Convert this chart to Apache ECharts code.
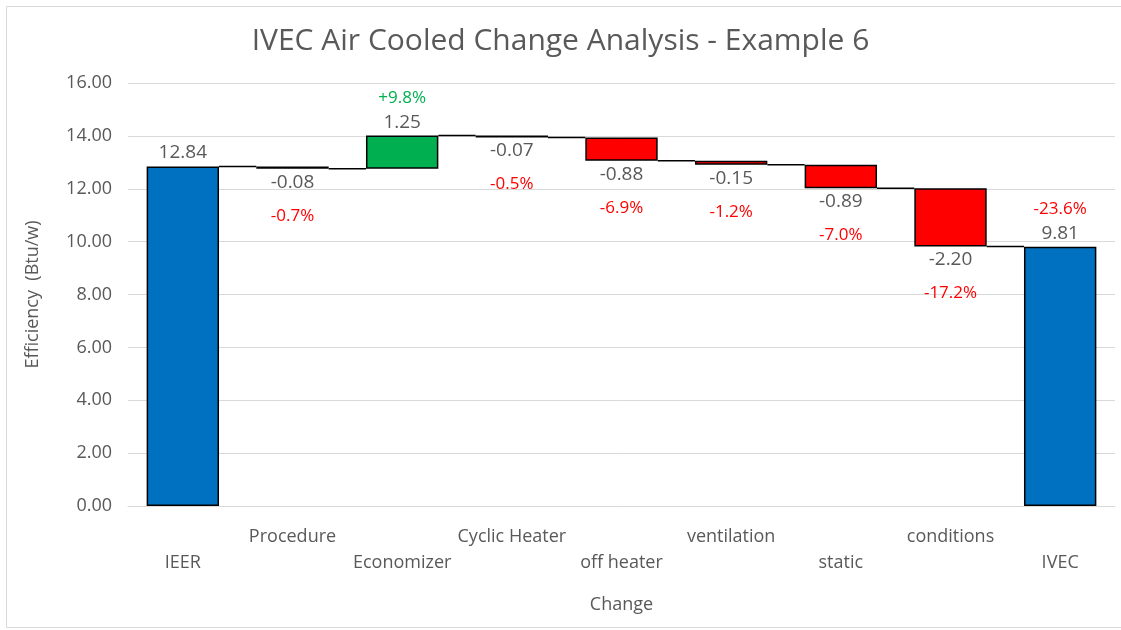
<!DOCTYPE html>
<html>
<head>
<meta charset="UTF-8">
<title>IVEC Air Cooled Change Analysis</title>
<script src="https://cdn.jsdelivr.net/npm/echarts@6/dist/echarts.min.js"></script>
<style>
* { margin: 0; padding: 0; }
#app { width: 1121px; height: 630px; background: #fff; }
</style>
</head>
<body>
<div id="app"></div>
<script>
var categories = ['IEER', 'Procedure', 'Economizer', 'Cyclic Heater', 'off heater', 'ventilation', 'static', 'conditions', 'IVEC'];
// start / end totals and step changes
var startValue = 12.84;
var endValue = 9.81;
var changes = [-0.08, 1.25, -0.07, -0.88, -0.15, -0.89, -2.20];
var percents = ['', '-0.7%', '+9.8%', '-0.5%', '-6.9%', '-1.2%', '-7.0%', '-17.2%', '-23.6%'];
var yTicks = [0, 16, 2];

var GREY = '#595959';
var FONT = '"Open Sans", "Noto Sans", sans-serif';

// build waterfall base / bar values
var baseData = [0];
var barData = [{ value: startValue, kind: 'total', raw: startValue }];
var levels = [startValue];
var level = startValue;
changes.forEach(function (d) {
  var next = +(level + d).toFixed(2);
  baseData.push(Math.min(level, next));
  barData.push({ value: Math.abs(d), kind: d >= 0 ? 'up' : 'down', raw: d });
  level = next;
  levels.push(level);
});
baseData.push(0);
barData.push({ value: endValue, kind: 'total', raw: endValue });

var colorOf = { total: '#0070C0', up: '#00B050', down: '#FF0000' };

var seriesData = barData.map(function (b, i) {
  var neg = b.kind === 'down';
  var pct = percents[i];
  var txt;
  if (neg) {
    txt = '{v|' + b.raw.toFixed(2) + '}\n{pr|' + pct + '}';
  } else if (pct) {
    txt = '{' + (b.kind === 'up' ? 'pg' : 'pr2') + '|' + pct + '}\n{v|' + b.raw.toFixed(2) + '}';
  } else {
    txt = '{v|' + b.raw.toFixed(2) + '}';
  }
  return {
    value: b.value,
    itemStyle: { color: colorOf[b.kind] },
    label: {
      show: true,
      position: neg ? 'bottom' : 'top',
      distance: 0,
      formatter: txt
    }
  };
});

// connector lines between consecutive bars
var connData = levels.map(function (l, i) { return [i, l]; });

var myChart = echarts.init(document.getElementById('app'));
myChart.setOption({
  animation: false,
  textStyle: { fontFamily: FONT },
  title: {
    text: 'IVEC Air Cooled Change Analysis - Example 6',
    left: 'center',
    top: 21,
    textStyle: { color: GREY, fontSize: 30, fontWeight: 'normal', fontFamily: FONT }
  },
  grid: { left: 128, right: 6, top: 83, bottom: 124 },
  graphic: [{
    type: 'rect',
    shape: { x: 6.5, y: 6.5, width: 1130, height: 621 },
    style: { fill: 'none', stroke: '#D9D9D9', lineWidth: 1 },
    silent: true
  }],
  xAxis: {
    type: 'category',
    data: categories,
    name: 'Change',
    nameLocation: 'middle',
    nameGap: 90,
    nameTextStyle: { color: GREY, fontSize: 18 },
    axisLine: { lineStyle: { color: '#D9D9D9' } },
    axisTick: { show: false },
    axisLabel: {
      interval: 0,
      color: GREY,
      fontSize: 18,
      margin: 18,
      lineHeight: 26,
      formatter: function (v, i) { return i % 2 ? v + '\n ' : ' \n' + v; }
    }
  },
  yAxis: {
    type: 'value',
    min: yTicks[0],
    max: yTicks[1],
    interval: yTicks[2],
    name: 'Efficiency  (Btu/w)',
    nameLocation: 'middle',
    nameGap: 86,
    nameTextStyle: { color: GREY, fontSize: 18 },
    axisLine: { show: false },
    axisTick: { show: false },
    axisLabel: {
      color: GREY,
      fontSize: 18,
      margin: 16,
      formatter: function (v) { return v.toFixed(2); }
    },
    splitLine: { lineStyle: { color: '#D9D9D9' } }
  },
  series: [{
    type: 'bar',
    stack: 'w',
    data: baseData,
    barWidth: '66%',
    itemStyle: { color: 'transparent' },
    silent: true
  }, {
    type: 'bar',
    stack: 'w',
    data: seriesData,
    barWidth: '66%',
    itemStyle: { borderColor: '#000', borderWidth: 1.5 },
    label: {
      rich: {
        v: { color: GREY, fontSize: 19, lineHeight: 27, fontFamily: FONT },
        pr: { color: '#FF0000', fontSize: 17, lineHeight: 40, fontFamily: FONT },
        pg: { color: '#00B050', fontSize: 17, lineHeight: 20, fontFamily: FONT },
        pr2: { color: '#FF0000', fontSize: 17, lineHeight: 20, fontFamily: FONT }
      }
    }
  }, {
    type: 'custom',
    data: connData,
    z: 5,
    silent: true,
    renderItem: function (params, api) {
      var i = api.value(0);
      if (i >= categories.length - 1) return null;
      var p = api.coord([i, api.value(1)]);
      var band = api.size([1, 0])[0];
      var half = band * 0.33;
      return {
        type: 'line',
        shape: { x1: p[0] + half, y1: p[1], x2: p[0] + band - half, y2: p[1] },
        style: { stroke: '#000', lineWidth: 1.5 }
      };
    }
  }]
});
</script>
</body>
</html>
